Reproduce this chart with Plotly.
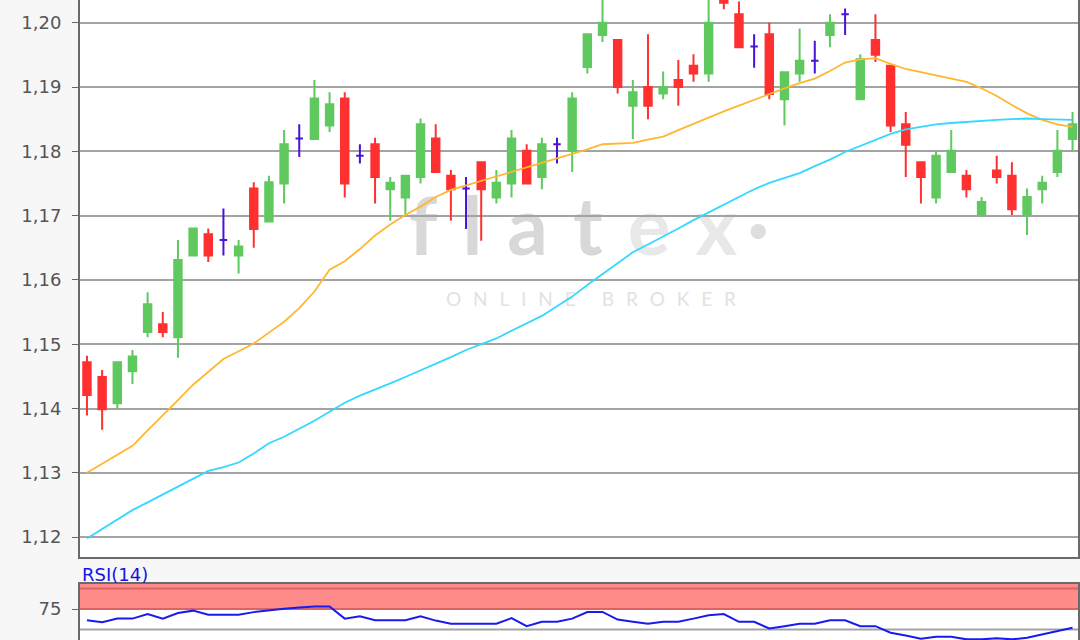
import plotly.graph_objects as go

# ---- data ----
idx = list(range(66))
open_ = [1.1472, 1.1449, 1.1408, 1.1458, 1.1519, 1.1531, 1.1511, 1.1638, 1.1671, 1.1662,
         1.1638, 1.1742, 1.1691, 1.1750, 1.1820, 1.1819, 1.1840, 1.1882, 1.1793, 1.1811,
         1.1741, 1.1728, 1.1760, 1.1820, 1.1762, 1.1742, 1.1783, 1.1728, 1.1750, 1.1801,
         1.1760, 1.1811, 1.1801, 1.1931, 1.1981, 1.1973, 1.1871, 1.1900, 1.1890, 1.1911,
         1.1933, 1.1921, 1.2040, 1.2013, 1.1963, 1.1982, 1.1881, 1.1921, 1.1941, 1.1981,
         1.2013, 1.1881, 1.1973, 1.1933, 1.1842, 1.1783, 1.1728, 1.1768, 1.1762, 1.1701,
         1.1770, 1.1762, 1.1701, 1.1741, 1.1768, 1.1819]
high = [1.1482, 1.1460, 1.1473, 1.1491, 1.1581, 1.1550, 1.1662, 1.1681, 1.1680, 1.1711,
        1.1662, 1.1752, 1.1762, 1.1833, 1.1842, 1.1911, 1.1892, 1.1892, 1.1811, 1.1821,
        1.1760, 1.1763, 1.1851, 1.1842, 1.1771, 1.1760, 1.1784, 1.1771, 1.1833, 1.1811,
        1.1821, 1.1821, 1.1892, 1.1983, 1.2045, 1.1974, 1.1911, 1.1982, 1.1924, 1.1942,
        1.1951, 1.2045, 1.2046, 1.2033, 1.1982, 1.2000, 1.1924, 1.1991, 1.1972, 1.2013,
        1.2022, 1.1951, 1.2013, 1.1934, 1.1861, 1.1784, 1.1801, 1.1833, 1.1771, 1.1729,
        1.1793, 1.1783, 1.1742, 1.1762, 1.1833, 1.1861]
low = [1.1389, 1.1367, 1.1399, 1.1438, 1.1511, 1.1511, 1.1479, 1.1637, 1.1628, 1.1638,
       1.1610, 1.1650, 1.1690, 1.1719, 1.1791, 1.1818, 1.1830, 1.1728, 1.1781, 1.1719,
       1.1692, 1.1701, 1.1750, 1.1767, 1.1692, 1.1679, 1.1661, 1.1719, 1.1728, 1.1749,
       1.1741, 1.1781, 1.1768, 1.1921, 1.1970, 1.1890, 1.1819, 1.1850, 1.1881, 1.1871,
       1.1908, 1.1908, 1.2021, 1.1961, 1.1930, 1.1881, 1.1840, 1.1908, 1.1921, 1.1962,
       1.1981, 1.1880, 1.1939, 1.1830, 1.1760, 1.1719, 1.1719, 1.1767, 1.1728, 1.1700,
       1.1750, 1.1701, 1.1670, 1.1719, 1.1760, 1.1801]
close = [1.1421, 1.1399, 1.1472, 1.1481, 1.1562, 1.1519, 1.1631, 1.1680, 1.1638, 1.1662,
         1.1652, 1.1679, 1.1752, 1.1811, 1.1820, 1.1882, 1.1873, 1.1750, 1.1793, 1.1760,
         1.1751, 1.1762, 1.1842, 1.1768, 1.1741, 1.1742, 1.1741, 1.1751, 1.1820, 1.1750,
         1.1811, 1.1811, 1.1882, 1.1982, 1.2000, 1.1900, 1.1892, 1.1871, 1.1900, 1.1900,
         1.1921, 1.2000, 1.2031, 1.1962, 1.1963, 1.1889, 1.1923, 1.1941, 1.1941, 1.2000,
         1.2013, 1.1943, 1.1950, 1.1840, 1.1810, 1.1760, 1.1793, 1.1801, 1.1741, 1.1721,
         1.1760, 1.1710, 1.1729, 1.1751, 1.1801, 1.1842]
ma_short = [1.1300, 1.1314, 1.1328, 1.1342, 1.1366, 1.1389, 1.1413, 1.1437, 1.1457, 1.1477,
            1.1489, 1.1501, 1.1518, 1.1535, 1.1556, 1.1582, 1.1616, 1.1629, 1.1648, 1.1669,
            1.1686, 1.1701, 1.1714, 1.1729, 1.1740, 1.1747, 1.1754, 1.1761, 1.1767, 1.1774,
            1.1781, 1.1788, 1.1796, 1.1803, 1.1811, 1.1812, 1.1813, 1.1818, 1.1823, 1.1833,
            1.1843, 1.1852, 1.1862, 1.1871, 1.1880, 1.1890, 1.1898, 1.1906, 1.1913, 1.1925,
            1.1938, 1.1943, 1.1945, 1.1936, 1.1928, 1.1923, 1.1918, 1.1913, 1.1908, 1.1898,
            1.1886, 1.1872, 1.1859, 1.1849, 1.1842, 1.1838]
ma_long = [1.1198, 1.1213, 1.1228, 1.1242, 1.1254, 1.1266, 1.1278, 1.1291, 1.1303, 1.1309,
           1.1316, 1.1330, 1.1346, 1.1356, 1.1368, 1.1381, 1.1395, 1.1409, 1.1420, 1.1429,
           1.1439, 1.1449, 1.1459, 1.1470, 1.1480, 1.1491, 1.1500, 1.1509, 1.1521, 1.1533,
           1.1544, 1.1559, 1.1574, 1.1592, 1.1609, 1.1627, 1.1643, 1.1655, 1.1667, 1.1680,
           1.1693, 1.1705, 1.1717, 1.1729, 1.1741, 1.1751, 1.1759, 1.1766, 1.1777, 1.1787,
           1.1799, 1.1808, 1.1817, 1.1827, 1.1834, 1.1838, 1.1842, 1.1844, 1.1846, 1.1847,
           1.1849, 1.1850, 1.1851, 1.1850, 1.1850, 1.1849]
rsi = [61.3, 58.9, 63.3, 63.3, 69.0, 63.3, 70.2, 73.0, 68.1, 68.1,
       68.1, 71.2, 73.6, 75.4, 76.8, 78.1, 78.1, 63.3, 66.1, 61.3,
       61.3, 61.3, 66.1, 60.9, 57.0, 57.0, 57.0, 57.0, 63.9, 54.1,
       59.4, 59.4, 63.3, 71.4, 71.4, 62.1, 59.4, 57.0, 59.4, 59.4,
       63.3, 67.5, 68.8, 59.4, 59.4, 51.3, 54.1, 57.0, 57.0, 61.3,
       61.3, 54.1, 54.1, 46.2, 42.9, 38.9, 41.3, 41.3, 38.1, 38.1,
       39.3, 38.1, 40.1, 44.1, 48.1, 52.2]
price_ticks = [1.12, 1.13, 1.14, 1.15, 1.16, 1.17, 1.18, 1.19, 1.20]
rsi_ticks = [75]

GREEN = "#5fc95f"
RED = "#ff3030"
BLUE_X = "#4a12d8"

norm = [i for i in idx if open_[i] != close[i]]
doji = [i for i in idx if open_[i] == close[i]]

fig = go.Figure()
fig.add_trace(go.Candlestick(
    x=[idx[i] for i in norm], open=[open_[i] for i in norm], high=[high[i] for i in norm],
    low=[low[i] for i in norm], close=[close[i] for i in norm],
    increasing=dict(line=dict(color=GREEN, width=2), fillcolor=GREEN),
    decreasing=dict(line=dict(color=RED, width=2), fillcolor=RED),
    showlegend=False, xaxis="x", yaxis="y"))
fig.add_trace(go.Candlestick(
    x=[idx[i] for i in doji], open=[open_[i] for i in doji], high=[high[i] for i in doji],
    low=[low[i] for i in doji], close=[close[i] for i in doji],
    increasing=dict(line=dict(color=BLUE_X, width=2), fillcolor=BLUE_X),
    decreasing=dict(line=dict(color=BLUE_X, width=2), fillcolor=BLUE_X),
    showlegend=False, xaxis="x", yaxis="y"))
fig.add_trace(go.Scatter(x=idx, y=ma_short, mode="lines", line=dict(color="#ffb730", width=1.8),
                         showlegend=False, xaxis="x", yaxis="y"))
fig.add_trace(go.Scatter(x=idx, y=ma_long, mode="lines", line=dict(color="#33d8ff", width=1.8),
                         showlegend=False, xaxis="x", yaxis="y"))
fig.add_trace(go.Scatter(x=idx, y=rsi, mode="lines", line=dict(color="#1a1aee", width=2),
                         showlegend=False, xaxis="x2", yaxis="y2"))

xr = [-0.46, 65.36]
fig.update_layout(
    width=1080, height=640,
    margin=dict(l=80, r=2, t=0, b=0, autoexpand=False),
    paper_bgcolor="#f7f7f7", plot_bgcolor="#ffffff",
    separators=",.",
    boxgap=0.3,
    font=dict(family="DejaVu Sans", size=18, color="#555555"),
    xaxis=dict(domain=[0, 1], range=xr, rangeslider=dict(visible=False), showgrid=False,
               zeroline=False, showticklabels=False, ticks="", showline=True,
               linecolor="#6a6a6a", linewidth=2, anchor="y", automargin=False),
    yaxis=dict(domain=[0.1297, 1], range=[1.11691, 1.20353], tickvals=price_ticks,
               tickformat=".2f", showgrid=True, gridcolor="#a3a3a3", gridwidth=2,
               zeroline=False, ticks="outside", ticklen=6, tickcolor="#666666",
               showline=True, linecolor="#6a6a6a", linewidth=2, mirror=True,
               ticklabelstandoff=7, anchor="x", automargin=False),
    xaxis2=dict(domain=[0, 1], range=xr, showgrid=False, zeroline=False,
                showticklabels=False, ticks="", showline=True, linecolor="#6a6a6a",
                linewidth=2, mirror=True, anchor="y2", automargin=False),
    yaxis2=dict(domain=[0, 0.0875], range=[37.3, 105.4], tickvals=rsi_ticks,
                showgrid=False, zeroline=False, ticks="outside", ticklen=6,
                tickcolor="#666666", showline=True, linecolor="#6a6a6a", linewidth=2,
                mirror=True, ticklabelstandoff=7, anchor="x2", automargin=False),
    hovermode=False,
)

# RSI overbought band and guide lines
fig.add_shape(type="rect", xref="x2 domain", yref="y2", x0=0, x1=1, y0=75, y1=105.4,
              fillcolor="#ff8a8a", line=dict(width=0), layer="below")
fig.add_shape(type="line", xref="x2 domain", yref="y2", x0=0, x1=1, y0=100, y1=100,
              line=dict(color="#d96464", width=2), layer="below")
fig.add_shape(type="line", xref="x2 domain", yref="y2", x0=0, x1=1, y0=75, y1=75,
              line=dict(color="#d96464", width=2), layer="below")
fig.add_shape(type="line", xref="x2 domain", yref="y2", x0=0, x1=1, y0=50, y1=50,
              line=dict(color="#a3a3a3", width=2), layer="below")

# watermark
gap = "\u2009\u200a\u200a\u200a"
fig.add_shape(type="rect", xref="paper", yref="paper", x0=0.31, x1=0.71, y0=0.571, y1=0.731,
              line=dict(width=0), fillcolor="rgba(0,0,0,0)", layer="below",
              label=dict(text="f" + gap + "l" + gap + "a" + gap + "t" + gap
                         + "<span style='color:#e8e8e8'>e" + gap + "x</span>" + "\u2009"
                         + "<span style='color:#dedede'>·</span>",
                         font=dict(family="Lato", size=80, color="#d8d8d8", weight=700),
                         textposition="middle center"))
sp = "\u2002\u200a\u200a"
fig.add_shape(type="rect", xref="paper", yref="paper", x0=0.312, x1=0.712, y0=0.509, y1=0.559,
              line=dict(width=0), fillcolor="rgba(0,0,0,0)", layer="below",
              label=dict(text=sp.join("ONLINE") + "\u2003" + sp + sp.join("BROKER"),
                         font=dict(family="Lato", size=19, color="#e2e2e2"),
                         textposition="middle center"))

fig.add_annotation(text="RSI(14)", xref="paper", yref="paper", x=0.0, y=(640 - 574) / 640,
                   xanchor="left", yanchor="middle", showarrow=False,
                   font=dict(family="DejaVu Sans", size=18, color="#1414e6"))

fig.write_html("out.html", config={"displayModeBar": False},
               post_script="document.body.style.margin='0';")
